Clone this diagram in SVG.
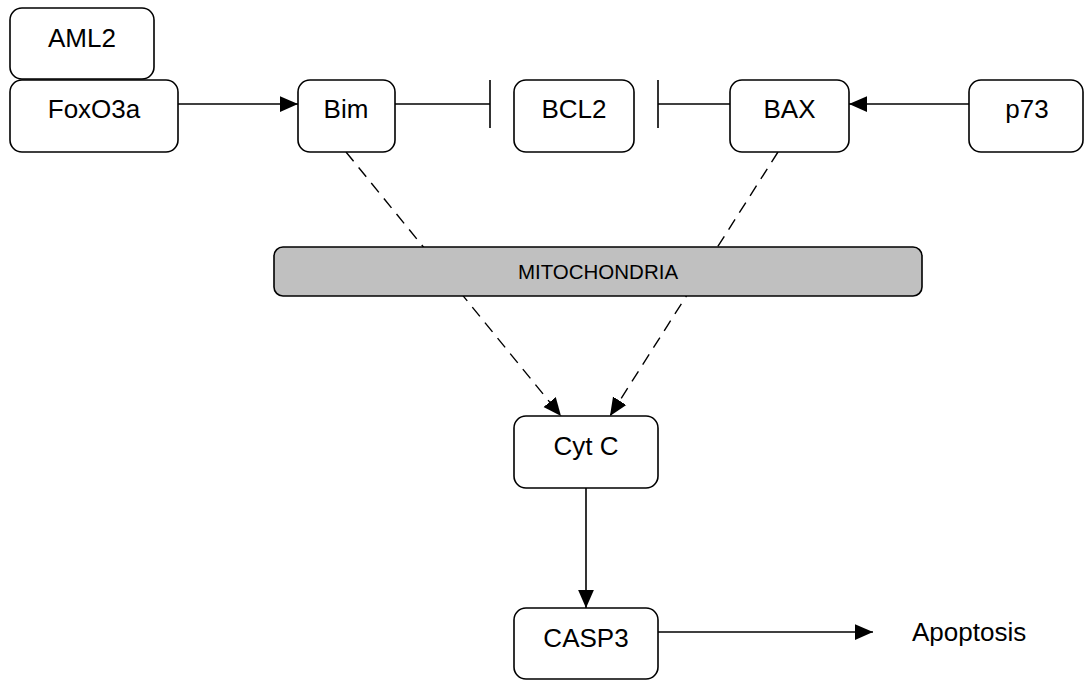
<svg xmlns="http://www.w3.org/2000/svg" width="1085" height="681" viewBox="0 0 1085 681">
<defs>
<style>
.box{fill:#ffffff;stroke:#000000;stroke-width:1.6}
.mito{fill:#c0c0c0;stroke:#000000;stroke-width:1.6}
.lbl{font-family:"Liberation Sans",Arial,sans-serif;font-size:26px;fill:#000000;text-anchor:middle}
.small{font-family:"Liberation Sans",Arial,sans-serif;font-size:20.5px;fill:#000000;text-anchor:middle}
.free{font-family:"Liberation Sans",Arial,sans-serif;font-size:26px;fill:#000000;text-anchor:start}
.edge{fill:none;stroke:#000000;stroke-width:1.6}
.dash{fill:none;stroke:#000000;stroke-width:1.4;stroke-dasharray:12 8}
</style>
<marker id="arr" markerUnits="userSpaceOnUse" markerWidth="18" markerHeight="18" viewBox="0 0 16 14" refX="16" refY="7" orient="auto">
<path d="M0,0 L16,7 L0,14 Z" fill="#000000"/>
</marker>
</defs>
<rect width="1085" height="681" fill="#ffffff"/>
<g id="connectors">
<line class="edge" x1="178" y1="104" x2="298" y2="104" marker-end="url(#arr)"/>
<line class="edge" x1="395" y1="104" x2="490" y2="104"/>
<line class="edge" x1="490" y1="80" x2="490" y2="128"/>
<line class="edge" x1="730" y1="104" x2="658" y2="104"/>
<line class="edge" x1="658" y1="80" x2="658" y2="128"/>
<line class="edge" x1="969" y1="104" x2="849" y2="104" marker-end="url(#arr)"/>
<line class="dash" x1="346" y1="152" x2="561" y2="416" marker-end="url(#arr)"/>
<line class="dash" x1="778" y1="152" x2="610" y2="416" marker-end="url(#arr)"/>
<line class="edge" x1="586" y1="488" x2="586" y2="608" marker-end="url(#arr)"/>
<line class="edge" x1="658" y1="632" x2="873" y2="632" marker-end="url(#arr)"/>
</g>
<g id="AML2"><rect class="box" x="10" y="8" width="144" height="71" rx="12"/><text class="lbl" x="82" y="47">AML2</text></g>
<g id="FoxO3a"><rect class="box" x="10" y="80" width="168" height="72" rx="12"/><text class="lbl" x="94" y="118">FoxO3a</text></g>
<g id="Bim"><rect class="box" x="298" y="80" width="97" height="72" rx="12"/><text class="lbl" x="346" y="118">Bim</text></g>
<g id="BCL2"><rect class="box" x="514" y="80" width="120" height="72" rx="12"/><text class="lbl" x="574" y="118">BCL2</text></g>
<g id="BAX"><rect class="box" x="730" y="80" width="119" height="72" rx="12"/><text class="lbl" x="789.5" y="118">BAX</text></g>
<g id="p73"><rect class="box" x="969" y="80" width="114" height="72" rx="12"/><text class="lbl" x="1027" y="118">p73</text></g>
<g id="MITOCHONDRIA"><rect class="mito" x="274" y="247" width="648" height="49" rx="9"/><text class="small" x="598" y="279">MITOCHONDRIA</text></g>
<g id="CytC"><rect class="box" x="514" y="416" width="144" height="72" rx="12"/><text class="lbl" x="586" y="455">Cyt C</text></g>
<g id="CASP3"><rect class="box" x="514" y="608" width="144" height="71" rx="12"/><text class="lbl" x="586" y="647">CASP3</text></g>
<g id="Apoptosis"><text class="free" x="912" y="641">Apoptosis</text></g>
</svg>
